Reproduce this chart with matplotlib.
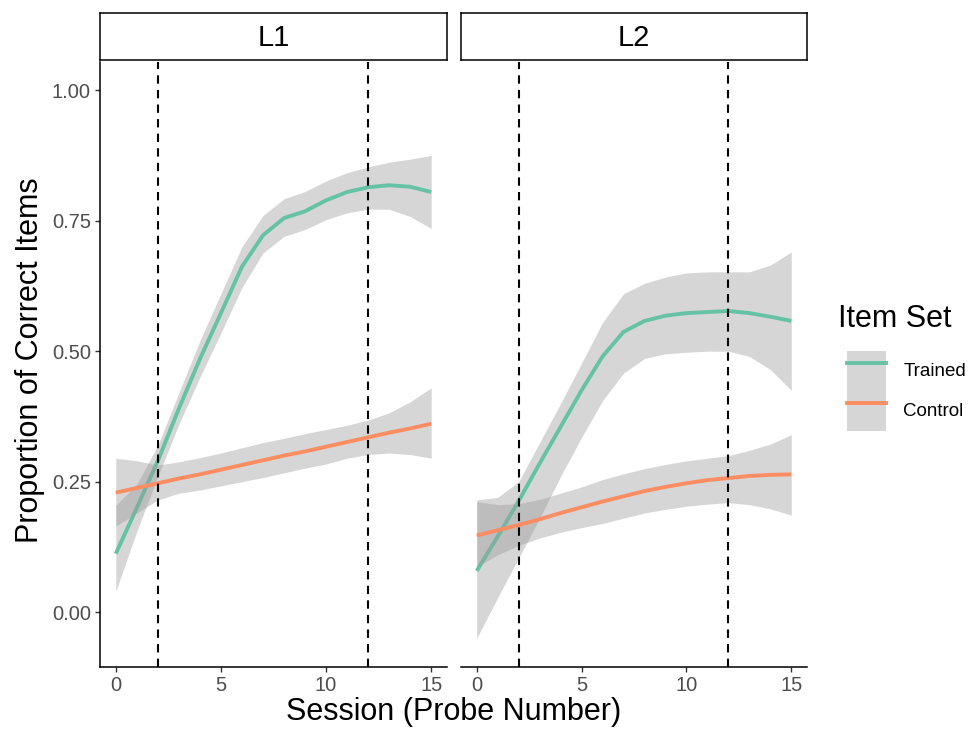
import matplotlib
matplotlib.use("Agg")
import matplotlib.pyplot as plt
from matplotlib.patches import Patch
from matplotlib.lines import Line2D

plt.rcParams['font.family'] = ['Liberation Sans', 'DejaVu Sans']

session = list(range(16))
panels = ["L1", "L2"]
phase_lines = [2, 12]

# L1 - smoothed proportions and confidence band
l1_trained = [0.112, 0.200, 0.290, 0.390, 0.485, 0.573, 0.662, 0.722, 0.755, 0.768,
              0.789, 0.805, 0.814, 0.818, 0.815, 0.805]
l1_trained_lo = [0.040, 0.155, 0.260, 0.360, 0.450, 0.535, 0.622, 0.688, 0.720, 0.733,
                 0.752, 0.765, 0.772, 0.772, 0.758, 0.735]
l1_trained_hi = [0.205, 0.245, 0.320, 0.420, 0.520, 0.610, 0.700, 0.760, 0.792, 0.806,
                 0.826, 0.842, 0.853, 0.862, 0.868, 0.875]
l1_control = [0.229, 0.238, 0.247, 0.256, 0.264, 0.273, 0.282, 0.291, 0.300, 0.308,
              0.317, 0.326, 0.335, 0.344, 0.352, 0.361]
l1_control_lo = [0.165, 0.190, 0.215, 0.228, 0.234, 0.242, 0.250, 0.258, 0.267, 0.276,
                 0.284, 0.295, 0.302, 0.305, 0.302, 0.295]
l1_control_hi = [0.295, 0.290, 0.282, 0.288, 0.296, 0.305, 0.315, 0.325, 0.333, 0.342,
                 0.350, 0.358, 0.368, 0.382, 0.403, 0.430]

# L2
l2_trained = [0.079, 0.145, 0.213, 0.285, 0.355, 0.425, 0.490, 0.537, 0.558, 0.568,
              0.573, 0.575, 0.577, 0.573, 0.566, 0.558]
l2_trained_lo = [-0.050, 0.028, 0.104, 0.180, 0.260, 0.335, 0.405, 0.458, 0.486, 0.495,
                 0.498, 0.500, 0.500, 0.490, 0.465, 0.425]
l2_trained_hi = [0.215, 0.220, 0.250, 0.325, 0.400, 0.477, 0.555, 0.610, 0.630, 0.642,
                 0.650, 0.652, 0.652, 0.652, 0.665, 0.690]
l2_control = [0.147, 0.157, 0.167, 0.178, 0.190, 0.201, 0.212, 0.222, 0.232, 0.240,
              0.247, 0.253, 0.257, 0.261, 0.263, 0.264]
l2_control_lo = [0.087, 0.110, 0.128, 0.142, 0.153, 0.162, 0.170, 0.180, 0.190, 0.197,
                 0.203, 0.207, 0.210, 0.206, 0.198, 0.186]
l2_control_hi = [0.212, 0.206, 0.208, 0.216, 0.228, 0.240, 0.254, 0.265, 0.275, 0.283,
                 0.290, 0.295, 0.300, 0.310, 0.322, 0.340]

yticks = [0.00, 0.25, 0.50, 0.75, 1.00]
xticks = [0, 5, 10, 15]

green = "#66C2A5"
orange = "#FC8D62"
band = "#999999"

W, H = 971, 733
fig = plt.figure(figsize=(W / 100, H / 100), dpi=100)

data = {
    "L1": [(l1_trained, l1_trained_lo, l1_trained_hi, green),
           (l1_control, l1_control_lo, l1_control_hi, orange)],
    "L2": [(l2_trained, l2_trained_lo, l2_trained_hi, green),
           (l2_control, l2_control_lo, l2_control_hi, orange)],
}
lefts = [100, 461]
widths = [347, 346]
top_px, bot_px = 62, 667

for i, name in enumerate(panels):
    ax = fig.add_axes([lefts[i] / W, 1 - bot_px / H, widths[i] / W, (bot_px - top_px) / H])
    z = 1
    for mid, lo, hi, col in data[name]:
        ax.fill_between(session, lo, hi, color=band, alpha=0.4, lw=0, zorder=z)
        ax.plot(session, mid, color=col, lw=2.8, zorder=z + 1, solid_capstyle='butt')
        z += 2
    for v in phase_lines:
        ax.axvline(v, color="black", lw=1.5, dashes=(4, 3), zorder=10)
    ax.set_xlim(-0.75, 15.75)
    ax.set_ylim(-0.105, 1.054)
    ax.set_xticks(xticks)
    ax.set_yticks(yticks)
    ax.set_yticklabels(["%.2f" % t for t in yticks])
    for s in ["top", "right"]:
        ax.spines[s].set_visible(False)
    ax.spines["bottom"].set_linewidth(1.1)
    ax.spines["left"].set_linewidth(1.1)
    ax.tick_params(length=3.6, width=1.0, color="#333333", labelcolor="#4D4D4D",
                   labelsize=14.5, pad=3)
    if i > 0:
        ax.spines["left"].set_visible(False)
        ax.tick_params(axis="y", left=False, labelleft=False)

    # facet strip
    sax = fig.add_axes([lefts[i] / W, 1 - 60 / H, widths[i] / W, 47 / H])
    sax.set_xticks([])
    sax.set_yticks([])
    for s in sax.spines.values():
        s.set_linewidth(1.1)
    sax.text(0.5, 0.47, name, ha="center", va="center", fontsize=21, transform=sax.transAxes)

fig.text(30 / W, 1 - 360 / H, "Proportion of Correct Items", rotation=90,
         ha="center", va="center", fontsize=22)
fig.text(454 / W, 1 - 712 / H, "Session (Probe Number)", ha="center", va="center", fontsize=22)

handles = [(Patch(facecolor=band, alpha=0.4, lw=0), Line2D([], [], color=green, lw=2.8)),
           (Patch(facecolor=band, alpha=0.4, lw=0), Line2D([], [], color=orange, lw=2.8))]
leg = fig.legend(handles, ["Trained", "Control"], title="Item Set", loc="upper left",
                 bbox_to_anchor=(847 / W, 1 - 304 / H), frameon=False, fontsize=13.5,
                 title_fontsize=22, handlelength=2.1, handleheight=2.9, labelspacing=0,
                 handletextpad=0.9, borderpad=0, borderaxespad=0, alignment="left")
leg._legend_box.sep = 12
leg.get_title().set_x(-9)

fig.savefig("out.png", dpi=100)
